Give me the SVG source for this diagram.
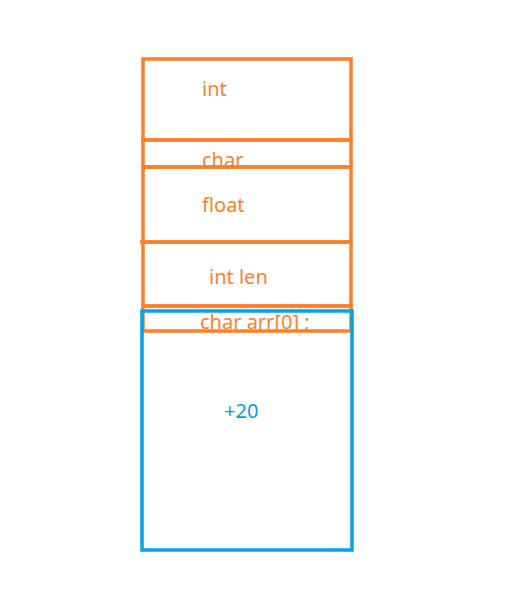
<svg xmlns="http://www.w3.org/2000/svg" width="531" height="592" viewBox="0 0 531 592">
<style>
.o{fill:none;stroke:#ff7f27;stroke-width:3.5}
.b{fill:none;stroke:#00a2e8;stroke-width:3.5}
.t{font-family:"Noto Sans","Open Sans",sans-serif;font-size:20px;fill:#ff7f27}
.tb{font-family:"Noto Sans","Open Sans",sans-serif;font-size:20px;fill:#00a2e8}
</style>
<rect width="531" height="592" fill="#fff"/>
<g id="int"><rect class="o" x="143" y="59" width="208" height="81"/><text class="t" x="202" y="96">int</text></g>
<g id="char"><rect class="o" x="143" y="140" width="208" height="27"/><text class="t" x="202" y="167">char</text></g>
<g id="float"><rect class="o" x="143" y="167" width="208" height="75"/><text class="t" x="202" y="212">float</text><line class="o" x1="140" y1="242" x2="143" y2="242"/></g>
<g id="intlen"><rect class="o" x="143" y="242" width="208" height="64"/><text class="t" x="209" y="284">int len</text></g>
<g id="arr"><rect class="o" x="143" y="306" width="208" height="25"/><text class="t" x="200" y="329">char arr[0] ;</text></g>
<g id="blue"><rect class="b" x="142" y="311" width="210" height="239"/><text class="tb" x="224" y="418">+20</text></g>
<g id="connectors"/>
</svg>
